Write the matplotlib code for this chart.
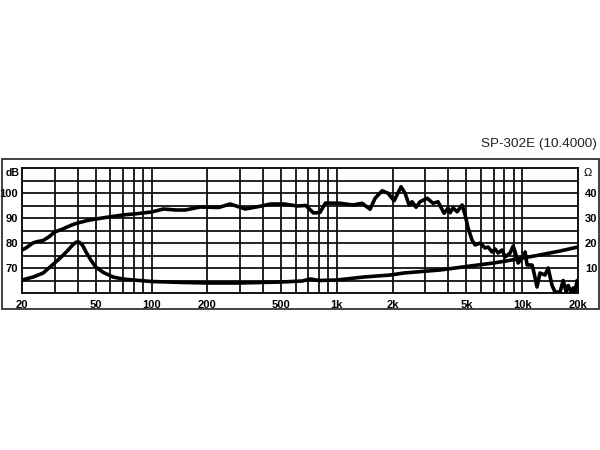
import numpy as np
import matplotlib
matplotlib.use("Agg")
import matplotlib.pyplot as plt
from matplotlib.patches import Rectangle

# SPL response (dB)
spl_freq = [20, 21, 22.9, 24, 26, 28, 30, 33, 35, 38, 40, 45, 50, 60, 70, 85, 100, 116, 135, 152, 183,
            230, 266, 320, 380, 439, 520, 612, 680, 748, 810, 868, 1040, 1222, 1368, 1510, 1608,
            1754, 1888, 2036, 2220, 2334, 2452, 2546, 2674, 2812, 3070, 3304, 3516, 3786, 3980,
            4083, 4236, 4456, 4742, 4920, 5106, 5360, 5572, 5930, 6304, 6545, 6872, 7145, 7414,
            7780, 8092, 8610, 8934, 9163, 9508, 9980, 10376, 10620, 11300, 11590, 12020, 12470,
            13270, 13800, 14490, 15030, 16000, 16640, 17260, 17700, 18360, 18840, 19290, 19770, 20000]
spl_db = [77.2, 78.0, 80.0, 80.5, 81.0, 82.5, 84.4, 85.5, 86.4, 87.5, 88.0, 89.0, 89.6, 90.5, 91.2, 91.8,
          92.4, 93.6, 93.2, 93.2, 94.4, 94.2, 95.6, 93.6, 94.6, 95.6, 95.6, 94.8, 95.0, 92.0, 92.2,
          96.0, 95.9, 95.2, 95.9, 93.5, 97.9, 100.9, 99.9, 96.9, 102.5, 99.9, 95.2, 96.5, 94.3,
          96.5, 97.9, 95.9, 96.5, 91.9, 93.9, 92.1, 94.0, 92.5, 95.2, 91.2, 86.0, 81.2, 79.2, 80.0,
          78.0, 78.4, 76.4, 77.6, 76.0, 77.2, 74.4, 76.0, 78.8, 76.4, 72.0, 74.0, 76.4, 71.2, 71.2,
          68.0, 62.4, 68.0, 67.2, 70.0, 63.0, 60.4, 60.4, 65.0, 60.4, 63.0, 60.4, 62.0, 60.4, 65.0,
          65.0]

# impedance (ohm)
imp_freq = [20, 23, 26, 30, 33, 35.5, 37.5, 39, 40, 41, 42.5, 44, 47, 50, 55, 62, 70, 80, 100, 150,
            200, 300, 500, 650, 720, 800, 1000, 1400, 1950, 2300, 3600, 5000, 7000, 8800, 12000,
            16000, 20000]
imp_ohm = [5.2, 6.4, 8.0, 12.0, 14.8, 17.2, 19.2, 20.2, 20.5, 20.2, 19.0, 16.8, 13.2, 10.4, 8.2, 6.4,
           5.6, 5.2, 4.6, 4.2, 4.0, 4.0, 4.4, 4.8, 5.6, 5.0, 5.2, 6.4, 7.2, 8.0, 9.2, 10.6, 12.0,
           13.2, 15.0, 16.8, 18.4]

x_ticks = [20, 50, 100, 200, 500, 1000, 2000, 5000, 10000, 20000]
x_labels = ["20", "50", "100", "200", "500", "1k", "2k", "5k", "10k", "20k"]
db_ticks = [70, 80, 90, 100]
ohm_labels = ["10", "20", "30", "40"]

plt.rcParams["font.family"] = ["Liberation Sans", "DejaVu Sans"]

fig = plt.figure(figsize=(6, 4.5), dpi=100)
W, H = 600.0, 450.0

# outer frame
fig.patches.append(Rectangle((1.5 / W, (H - 309) / H), 597 / W, 150 / H, transform=fig.transFigure,
                             fill=False, edgecolor="#222222", linewidth=1.2))

ax = fig.add_axes([22 / W, (H - 293) / H, 556 / W, 125 / H])
ax.set_xscale("log")
ax.set_xlim(20, 20000)
ax.set_ylim(60, 110)

# grid
grid_f = []
for dec in [10, 100, 1000, 10000]:
    for m in range(1, 10):
        f = m * dec
        if 20 < f < 20000:
            grid_f.append(f)
for f in grid_f:
    ax.axvline(f, color="#111111", linewidth=1.3, zorder=1)
for y in np.arange(65, 110, 5):
    ax.axhline(y, color="#111111", linewidth=1.3, zorder=1)
for s in ax.spines.values():
    s.set_color("#111111")
    s.set_linewidth(1.4)

ax.plot(spl_freq, spl_db, color="black", linewidth=2.6, zorder=3, solid_joinstyle="round")
ax.plot(imp_freq, np.array(imp_ohm) + 60, color="black", linewidth=2.6, zorder=3,
        solid_joinstyle="round")

ax.set_xticks(x_ticks)
ax.set_xticklabels(x_labels)
ax.xaxis.set_minor_locator(plt.NullLocator())
ax.set_yticks(db_ticks)
ax.set_yticklabels([str(v) for v in db_ticks])
ax.tick_params(axis="both", length=0, labelsize=8)
ax.tick_params(axis="x", pad=5)
ax.tick_params(axis="y", pad=3)
for lbl in ax.get_xticklabels() + ax.get_yticklabels():
    lbl.set_fontweight("bold")

ax2 = ax.twinx()
ax2.set_ylim(0, 50)
ax2.set_yticks([10, 20, 30, 40])
ax2.set_yticklabels(ohm_labels)
ax2.tick_params(axis="y", length=0, labelsize=8, pad=5)
for lbl in ax2.get_yticklabels():
    lbl.set_fontweight("bold")
for s in ax2.spines.values():
    s.set_visible(False)

fig.text(13 / W, (H - 173) / H, "dB", fontsize=7.5, fontweight="bold", ha="center", va="center")
fig.text(588 / W, (H - 173) / H, "Ω", fontsize=8, ha="center", va="center")
fig.text(597 / W, (H - 144) / H, "SP-302E (10.4000)", fontsize=9.7, ha="right", va="center",
         color="#222222")

fig.savefig("out.png", dpi=100)
